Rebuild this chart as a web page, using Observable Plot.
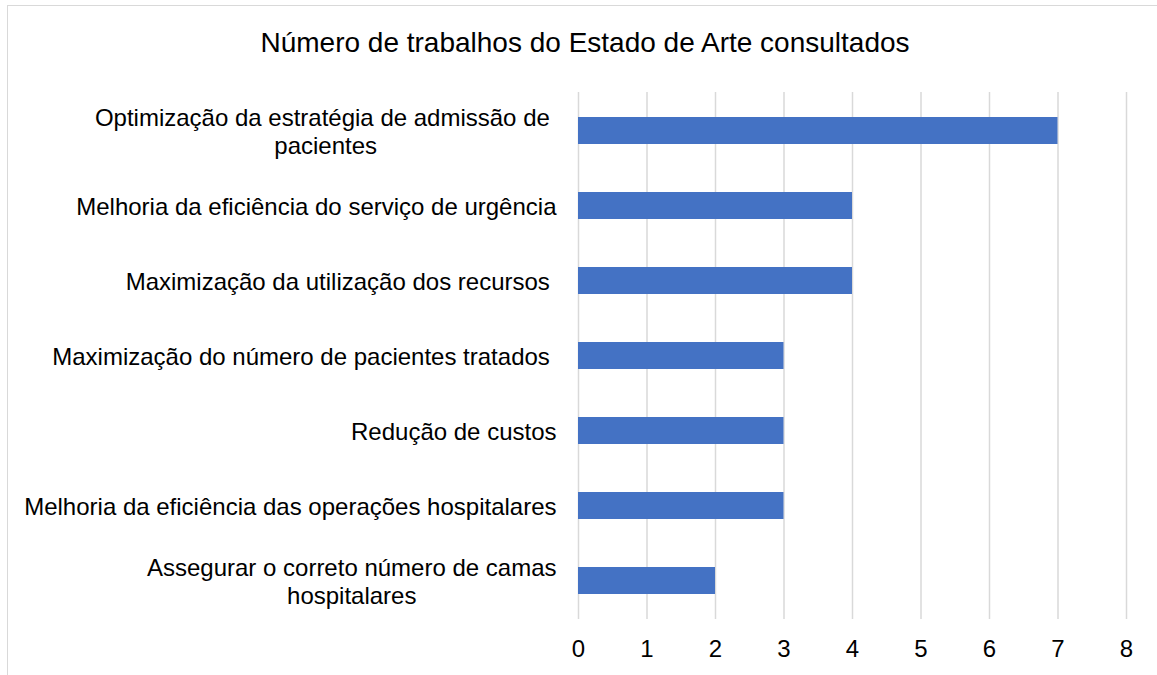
<!DOCTYPE html>
<html><head><meta charset="utf-8">
<script src="https://cdn.jsdelivr.net/npm/d3@7"></script>
<script src="https://cdn.jsdelivr.net/npm/@observablehq/plot@0.6"></script>
<style>
body{margin:0;background:#fff;font-family:"Liberation Sans",Arial,sans-serif;overflow:hidden;}
#frame{position:absolute;left:7px;top:5px;width:1200px;height:720px;border-top:1.5px solid #d9d9d9;border-left:1.5px solid #d9d9d9;}
#title{position:absolute;left:0;width:1170px;top:27px;text-align:center;font-size:28px;color:#000;}
#chart{position:absolute;left:0;top:0;}
#chart svg text{white-space:pre;}
</style></head><body>
<div id="frame"></div>
<div id="title">Número de trabalhos do Estado de Arte consultados</div>
<div id="chart"></div>
<script>
const categories = [
  "Optimização da estratégia de admissão de \npacientes",
  "Melhoria da eficiência do serviço de urgência",
  "Maximização da utilização dos recursos ",
  "Maximização do número de pacientes tratados ",
  "Redução de custos",
  "Melhoria da eficiência das operações hospitalares",
  "Assegurar o correto número de camas\nhospitalares"
];
const values = [7, 4, 4, 3, 3, 3, 2];
const xTicks = [0, 1, 2, 3, 4, 5, 6, 7, 8];
const data = categories.map((c, i) => ({category: c, value: values[i]}));

const chart = Plot.plot({
  width: 1157, height: 675,
  marginLeft: 578, marginRight: 31, marginTop: 92, marginBottom: 56,
  style: {fontFamily: '"Liberation Sans", Arial, sans-serif', fontSize: "24px", color: "#000", background: "transparent"},
  x: {domain: [0, 8], label: null},
  y: {domain: categories, paddingInner: 0.64, paddingOuter: 0.32, label: null},
  marks: [
    Plot.gridX(xTicks, {stroke: "#d9d9d9", strokeOpacity: 1, strokeWidth: 1.5}),
    Plot.barX(data, {x: "value", y: "category", fill: "#4472C4"}),
    Plot.axisX(xTicks, {tickSize: 0, tickPadding: 20, fontSize: 24, label: null}),
    Plot.axisY({tickSize: 0, tickPadding: 22, lineHeight: 1.17, fontSize: 24, textOverflow: null, lineWidth: Infinity, label: null})
  ]
});
document.getElementById("chart").appendChild(chart);

// center multi-line category labels within their block (like the original)
d3.select(chart).selectAll("g[aria-label='y-axis tick label'] text").each(function() {
  const tspans = d3.select(this).selectAll("tspan");
  if (tspans.size() > 1) {
    let maxW = 0;
    tspans.each(function() { maxW = Math.max(maxW, this.getComputedTextLength()); });
    d3.select(this).attr("text-anchor", "middle");
    tspans.attr("x", -maxW / 2);
  }
});
</script>
</body></html>
